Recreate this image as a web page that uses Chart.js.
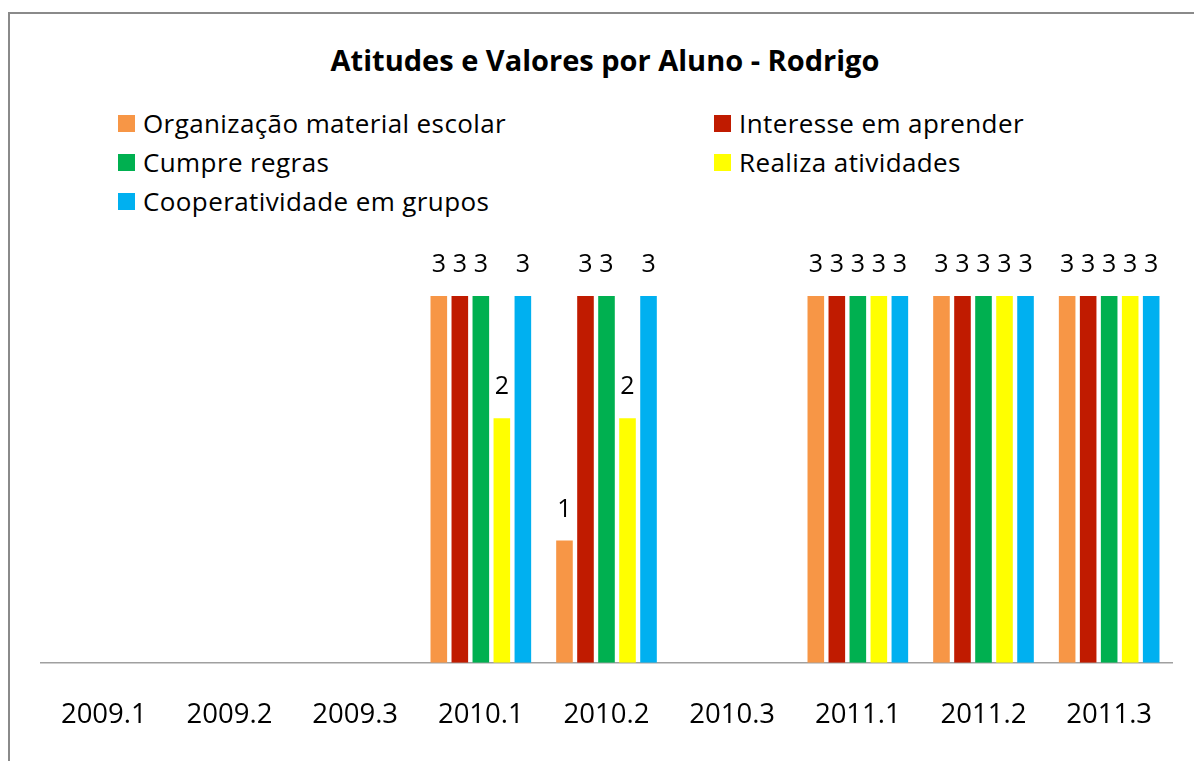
<!DOCTYPE html>
<html>
<head>
<meta charset="utf-8">
<script src="https://cdn.jsdelivr.net/npm/chart.js@4.4.1/dist/chart.umd.min.js"></script>
<style>
  html, body { margin:0; padding:0; background:#fff; }
  #wrap { position:relative; width:1194px; height:761px; overflow:hidden; font-family:"Open Sans", sans-serif; }
  #frame { position:absolute; left:8px; top:12px; width:1300px; height:900px; border:2px solid #8a8a8a; box-sizing:border-box; }
  #title { position:absolute; left:0; top:41px; width:1210px; text-align:center; font-weight:bold; font-size:29px; line-height:38px; color:#000; }
  .leg { position:absolute; font-size:26px; letter-spacing:0.4px; line-height:30px; color:#000; white-space:nowrap; }
  .leg span.box { position:absolute; left:0; top:6px; width:17px; height:17px; }
  .leg span.txt { position:absolute; left:25px; top:-1px; }
  canvas { position:absolute; left:0; top:0; }
</style>
</head>
<body>
<div id="wrap">
  <div id="frame"></div>
  <div id="title">Atitudes e Valores por Aluno - Rodrigo</div>
  <div id="legend"></div>
  <canvas id="c" width="1194" height="770"></canvas>
</div>
<script>
const categories = ['2009.1','2009.2','2009.3','2010.1','2010.2','2010.3','2011.1','2011.2','2011.3'];
const seriesNames = ['Organização material escolar','Interesse em aprender','Cumpre regras','Realiza atividades','Cooperatividade em grupos'];
const organizacao     = [null, null, null, 3, 1, null, 3, 3, 3];
const interesse       = [null, null, null, 3, 3, null, 3, 3, 3];
const cumpreRegras    = [null, null, null, 3, 3, null, 3, 3, 3];
const realiza         = [null, null, null, 2, 2, null, 3, 3, 3];
const cooperatividade = [null, null, null, 3, 3, null, 3, 3, 3];
const colors = ['#F79646', '#C01B00', '#00B050', '#FFFF00', '#00B0F0'];

const seriesValues = [organizacao, interesse, cumpreRegras, realiza, cooperatividade];

// HTML legend (two columns, Excel style)
const legendPos = [[118,109],[714,109],[118,148],[714,148],[118,187]];
const legEl = document.getElementById('legend');
seriesNames.forEach((name, i) => {
  const d = document.createElement('div');
  d.className = 'leg';
  d.style.left = legendPos[i][0] + 'px';
  d.style.top = legendPos[i][1] + 'px';
  d.innerHTML = '<span class="box" style="background:' + colors[i] + '"></span><span class="txt">' + name + '</span>';
  legEl.appendChild(d);
});

const valueLabels = {
  id: 'valueLabels',
  afterDatasetsDraw(chart) {
    const ctx = chart.ctx;
    ctx.save();
    ctx.font = '25px "Open Sans", sans-serif';
    ctx.fillStyle = '#000';
    ctx.textAlign = 'center';
    ctx.textBaseline = 'middle';
    chart.data.datasets.forEach((ds, di) => {
      const meta = chart.getDatasetMeta(di);
      meta.data.forEach((el, i) => {
        const v = ds.data[i];
        if (v === null || v === undefined) return;
        ctx.fillText(String(v), el.x, el.y - 31);
      });
    });
    ctx.restore();
  }
};

new Chart(document.getElementById('c'), {
  type: 'bar',
  data: {
    labels: categories,
    datasets: seriesValues.map((vals, i) => ({
      label: seriesNames[i],
      data: vals,
      backgroundColor: colors[i],
      borderWidth: 0,
      barPercentage: 0.79,
      categoryPercentage: 0.836
    }))
  },
  options: {
    responsive: false,
    animation: false,
    layout: { padding: { left: 41, right: 22, top: 235, bottom: 2.3 } },
    plugins: { legend: { display: false }, title: { display: false }, tooltip: { enabled: false } },
    scales: {
      x: {
        grid: { display: false, drawTicks: false },
        border: { display: true, color: '#a0a0a0', width: 1.5 },
        ticks: { color: '#000', font: { family: '"Open Sans", sans-serif', size: 27.5 }, padding: 36, maxRotation: 0 }
      },
      y: { display: false, min: 0, max: 3.5 }
    }
  },
  plugins: [valueLabels]
});
</script>
</body>
</html>
